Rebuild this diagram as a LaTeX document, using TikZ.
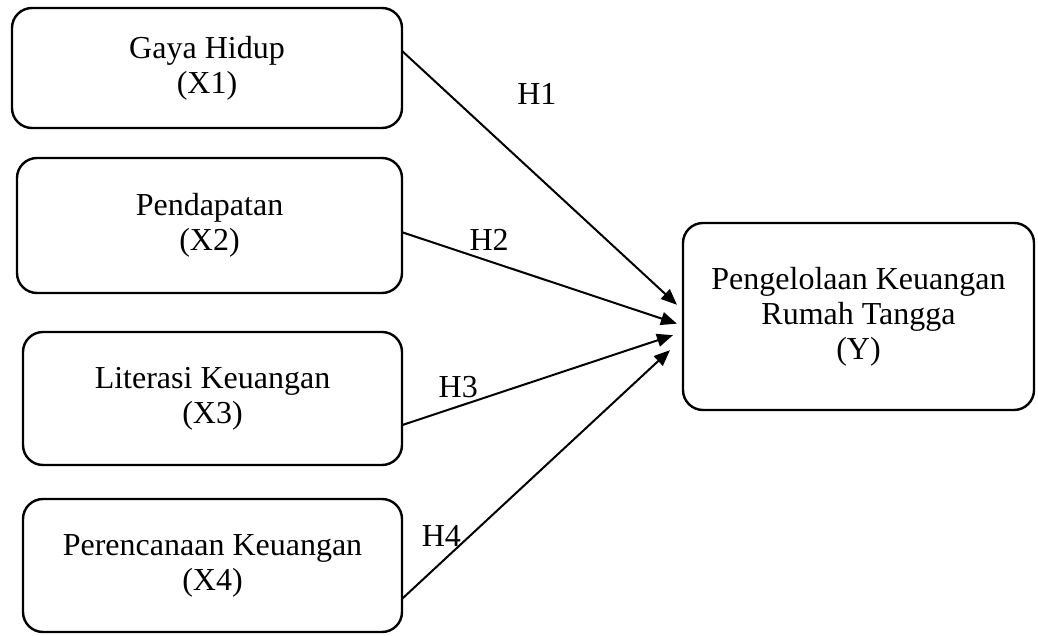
\documentclass[tikz,border=0pt]{standalone}
\usepackage{fontspec}
\setmainfont{Liberation Serif}
\usetikzlibrary{positioning,arrows.meta}
\tikzset{
  varbox/.style = {draw, rounded corners=10pt, align=center, line width=1.2pt, inner sep=0pt, outer sep=0pt, font=\fontsize{16pt}{17.5pt}\selectfont},
  hyp/.style    = {-{Triangle[length=8pt,width=6.5pt]}, line width=1pt},
  hlabel/.style = {font=\fontsize{16pt}{17.5pt}\selectfont, inner sep=0pt},
}

\begin{document}
\begin{tikzpicture}
  \useasboundingbox (0,0) rectangle (519pt,318pt);
  \node[varbox, minimum width=195pt, minimum height=60pt] (x1) at (103.5pt,284pt) {Gaya Hidup\\(X1)};
  \node[varbox, minimum width=192.5pt, minimum height=67.5pt, below=15pt of x1.south east, anchor=north east] (x2) {Pendapatan\\(X2)};
  \node[varbox, minimum width=189.5pt, minimum height=66.5pt, below=19.5pt of x2.south east, anchor=north east] (x3) {Literasi Keuangan\\(X3)};
  \node[varbox, minimum width=189.5pt, minimum height=66.5pt, below=17pt of x3.south east, anchor=north east] (x4) {Perencanaan Keuangan\\(X4)};
  \node[varbox, minimum width=175.5pt, minimum height=93.5pt] (y) at (429.25pt,159.75pt) {Pengelolaan Keuangan\\Rumah Tangga\\(Y)};
  \draw[hyp, shorten >=4.1pt] (x1.5) -- node[hlabel, pos=.48, yshift=41pt] {H1} (y.178);
  \draw[hyp, shorten >=3.2pt] (x2.-2) -- node[hlabel, pos=.31, yshift=10.5pt] {H2} (y.183);
  \draw[hyp, shorten >=5.3pt] (x3.-8) -- node[hlabel, pos=.2, yshift=9.5pt] {H3} (y.185);
  \draw[hyp, shorten >=8.9pt] (x4.-10) -- node[hlabel, pos=.14, yshift=13pt] {H4} (y.187);
\end{tikzpicture}
\end{document}
